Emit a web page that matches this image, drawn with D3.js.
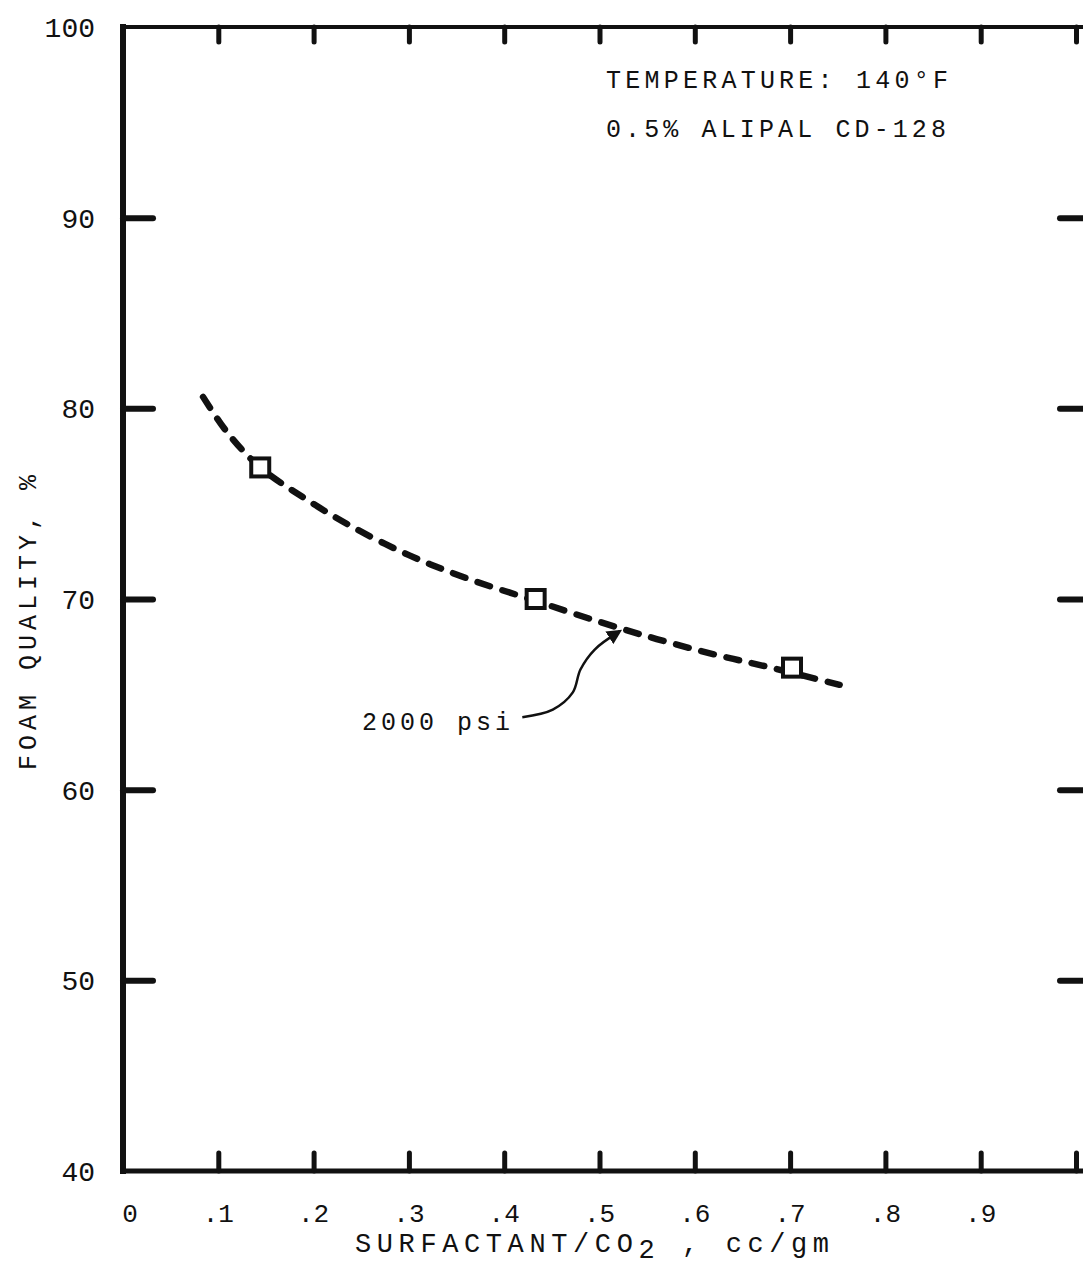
<!DOCTYPE html>
<html>
<head>
<meta charset="utf-8">
<script src="https://cdn.jsdelivr.net/npm/d3@7"></script>
<style>
  body { margin: 0; background: #fff; }
  svg text { font-family: "Liberation Mono", "DejaVu Sans Mono", monospace; fill: #111; }
</style>
</head>
<body>
<svg class="chart_svg"></svg>
<script>
// data
const xTicks = [0.1, 0.2, 0.3, 0.4, 0.5, 0.6, 0.7, 0.8, 0.9, 1.0];
const xTickLabels = ["0", ".1", ".2", ".3", ".4", ".5", ".6", ".7", ".8", ".9"];
const xLabelValues = [0, 0.1, 0.2, 0.3, 0.4, 0.5, 0.6, 0.7, 0.8, 0.9];
const yTicks = [50, 60, 70, 80, 90];
const yLabelValues = [40, 50, 60, 70, 80, 90, 100];
const yTickLabels = ["40", "50", "60", "70", "80", "90", "100"];

// measured points (2000 psi)
const pointX = [0.144, 0.433, 0.702];
const pointY = [76.9, 70.0, 66.4];

// hand-drawn fitted curve
const curveX = [0.084, 0.11, 0.144, 0.19, 0.24, 0.30, 0.36, 0.433, 0.50, 0.56, 0.62, 0.68, 0.752];
const curveY = [80.6, 78.7, 76.9, 75.3, 73.8, 72.3, 71.1, 69.9, 68.8, 67.9, 67.1, 66.4, 65.5];

// arrow from the "2000 psi" label to the curve
const arrowX = [0.419, 0.451, 0.472, 0.480, 0.495, 0.521];
const arrowY = [63.8, 64.2, 65.1, 66.3, 67.35, 68.3];

const width = 1083, height = 1271;

const svg = d3.select(".chart_svg")
    .attr("width", width)
    .attr("height", height);

const x_scale = d3.scaleLinear().domain([0, 1]).range([123, 1076]);
const y_scale = d3.scaleLinear().domain([40, 100]).range([1171, 27]);
const rightX = 1090;

// arrow head
svg.append("defs").append("marker")
    .attr("id", "head")
    .attr("viewBox", "0 0 10 10")
    .attr("refX", 8).attr("refY", 5)
    .attr("markerWidth", 6).attr("markerHeight", 6)
    .attr("orient", "auto")
    .attr("markerUnits", "strokeWidth")
    .append("path")
    .attr("d", "M0,0 L10,5 L0,10 Z")
    .attr("fill", "#111");

// frame
const frame = svg.append("g").attr("class", "frame").attr("stroke", "#111").attr("stroke-linecap", "square");
frame.append("line").attr("x1", x_scale(0)).attr("x2", x_scale(0)).attr("y1", y_scale(100)).attr("y2", y_scale(40)).attr("stroke-width", 6);
frame.append("line").attr("x1", x_scale(0)).attr("x2", rightX).attr("y1", y_scale(100)).attr("y2", y_scale(100)).attr("stroke-width", 4);
frame.append("line").attr("x1", x_scale(0)).attr("x2", rightX).attr("y1", y_scale(40)).attr("y2", y_scale(40)).attr("stroke-width", 5);
frame.append("line").attr("x1", rightX).attr("x2", rightX).attr("y1", y_scale(100)).attr("y2", y_scale(40)).attr("stroke-width", 5);

function styleTicks(g, w) {
    g.select(".domain").remove();
    g.selectAll(".tick line").attr("stroke", "#111").attr("stroke-width", w).attr("stroke-linecap", "round");
}

// bottom ticks
svg.append("g")
    .attr("transform", `translate(0,${y_scale(40)})`)
    .call(d3.axisBottom(x_scale).tickValues(xTicks).tickSize(-18).tickFormat(""))
    .call(g => styleTicks(g, 5));

// top ticks
svg.append("g")
    .attr("transform", `translate(0,${y_scale(100)})`)
    .call(d3.axisTop(x_scale).tickValues(xTicks).tickSize(-15).tickFormat(""))
    .call(g => styleTicks(g, 5));

// left ticks
svg.append("g")
    .attr("transform", `translate(${x_scale(0)},0)`)
    .call(d3.axisLeft(y_scale).tickValues(yTicks).tickSize(-30).tickFormat(""))
    .call(g => styleTicks(g, 6));

// right ticks
svg.append("g")
    .attr("transform", `translate(${rightX},0)`)
    .call(d3.axisRight(y_scale).tickValues(yTicks).tickSize(-30).tickFormat(""))
    .call(g => styleTicks(g, 6));

// x tick labels
svg.append("g").selectAll("text")
    .data(xLabelValues)
    .join("text")
    .attr("x", (d, i) => x_scale(d) + (i === 0 ? 7 : 0))
    .attr("y", 1222)
    .attr("text-anchor", "middle")
    .style("font-size", "26px")
    .text((d, i) => xTickLabels[i]);

// y tick labels
svg.append("g").selectAll("text")
    .data(yLabelValues)
    .join("text")
    .attr("x", 95)
    .attr("y", d => y_scale(d) + 10)
    .attr("text-anchor", "end")
    .style("font-size", "28px")
    .text((d, i) => yTickLabels[i]);

// axis titles
const xTitle = svg.append("text")
    .attr("x", 355)
    .attr("y", 1252)
    .style("font-size", "27px")
    .style("letter-spacing", "5.6px");
xTitle.append("tspan").text("SURFACTANT/CO");
xTitle.append("tspan").attr("dy", 6).text("2");
xTitle.append("tspan").attr("dy", -6).text(" , cc/gm");

svg.append("text")
    .attr("transform", "translate(36,620) rotate(-90)")
    .attr("text-anchor", "middle")
    .style("font-size", "25px")
    .style("letter-spacing", "5px")
    .text("FOAM QUALITY, %");

// annotations
svg.append("text")
    .attr("x", 606).attr("y", 88)
    .attr("textLength", 342).attr("lengthAdjust", "spacing")
    .style("font-size", "25px")
    .text("TEMPERATURE: 140°F");

svg.append("text")
    .attr("x", 606).attr("y", 137)
    .attr("textLength", 340).attr("lengthAdjust", "spacing")
    .style("font-size", "25px")
    .text("0.5% ALIPAL CD-128");

svg.append("text")
    .attr("x", 362).attr("y", 730)
    .attr("textLength", 148).attr("lengthAdjust", "spacing")
    .style("font-size", "25px")
    .text("2000 psi");

// fitted curve
const curveData = curveX.map((d, i) => ({ x: d, y: curveY[i] }));
const line = d3.line()
    .x(d => x_scale(d.x))
    .y(d => y_scale(d.y))
    .curve(d3.curveCatmullRom);

svg.append("path")
    .datum(curveData)
    .attr("d", line)
    .attr("fill", "none")
    .attr("stroke", "#111")
    .attr("stroke-width", 6.5)
    .attr("stroke-linecap", "round")
    .attr("stroke-dasharray", "13,13");

// arrow
const arrowData = arrowX.map((d, i) => ({ x: d, y: arrowY[i] }));
svg.append("path")
    .datum(arrowData)
    .attr("d", line)
    .attr("fill", "none")
    .attr("stroke", "#111")
    .attr("stroke-width", 2.5)
    .attr("marker-end", "url(#head)");

// data squares
const pts = pointX.map((d, i) => ({ x: d, y: pointY[i] }));
svg.append("g").selectAll(".data-square")
    .data(pts)
    .join("rect")
    .attr("class", "data-square")
    .attr("x", d => x_scale(d.x) - 9)
    .attr("y", d => y_scale(d.y) - 9)
    .attr("width", 18)
    .attr("height", 18)
    .attr("fill", "#fff")
    .attr("stroke", "#111")
    .attr("stroke-width", 4);
</script>
</body>
</html>
